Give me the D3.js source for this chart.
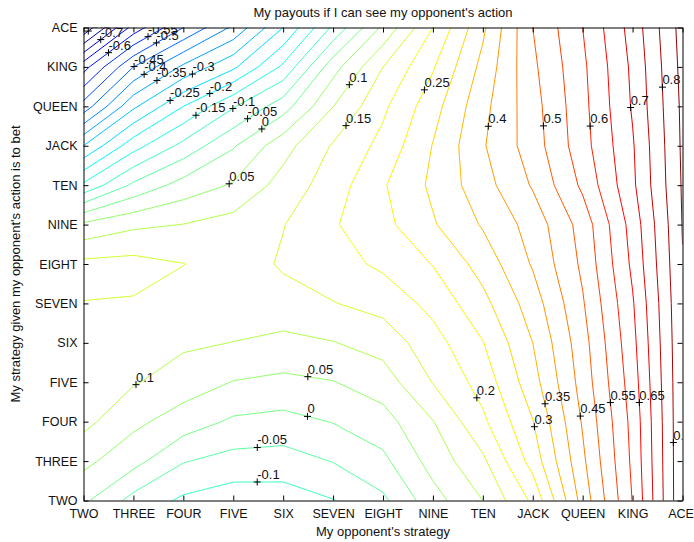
<!DOCTYPE html>
<html>
<head>
<meta charset="utf-8">
<script src="https://cdn.jsdelivr.net/npm/d3@7"></script>
<style>
  body { margin: 0; background: #ffffff; }
  text { font-family: "Liberation Sans", Arial, Helvetica, sans-serif; fill: #111; }
</style>
</head>
<body>
<svg id="chart" width="694" height="542"></svg>
<script>
// Card ranks used on both axes
const cards = ["TWO", "THREE", "FOUR", "FIVE", "SIX", "SEVEN", "EIGHT",
               "NINE", "TEN", "JACK", "QUEEN", "KING", "ACE"];

// Payoff grid: one row per own calling threshold (TWO..ACE),
// one value per opponent betting threshold (TWO..ACE)
const payoffRows = [
  [ 0.010, -0.067, -0.109, -0.128, -0.125, -0.102, -0.060, 0.030, 0.100, 0.210, 0.420, 0.602, 0.843],
  [ 0.063,  0.017, -0.047, -0.068, -0.072, -0.048, -0.012, 0.070, 0.140, 0.270, 0.440, 0.610, 0.842],
  [ 0.114,  0.062,  0.026, -0.008, -0.016,  0.002,  0.030, 0.098, 0.190, 0.298, 0.455, 0.615, 0.842],
  [ 0.133,  0.104,  0.076,  0.048,  0.038,  0.048,  0.075, 0.152, 0.220, 0.330, 0.470, 0.625, 0.842],
  [ 0.145,  0.125,  0.108,  0.099,  0.088,  0.098,  0.120, 0.180, 0.248, 0.350, 0.480, 0.635, 0.843],
  [ 0.149,  0.146,  0.130,  0.130,  0.128,  0.148,  0.168, 0.215, 0.285, 0.375, 0.495, 0.645, 0.845],
  [ 0.163,  0.167,  0.151,  0.120,  0.157,  0.180,  0.210, 0.252, 0.320, 0.405, 0.510, 0.660, 0.848],
  [ 0.060,  0.090,  0.101,  0.120,  0.148,  0.195,  0.235, 0.295, 0.355, 0.420, 0.520, 0.670, 0.852],
  [-0.140, -0.040,  0.020,  0.055,  0.120,  0.175,  0.245, 0.310, 0.380, 0.455, 0.560, 0.690, 0.855],
  [-0.300, -0.170, -0.085, -0.005,  0.081,  0.155,  0.215, 0.302, 0.395, 0.475, 0.580, 0.695, 0.858],
  [-0.480, -0.310, -0.200, -0.105, -0.023,  0.099,  0.190, 0.280, 0.385, 0.480, 0.585, 0.705, 0.860],
  [-0.620, -0.450, -0.340, -0.260, -0.140,  0.030,  0.150, 0.245, 0.365, 0.490, 0.590, 0.710, 0.865],
  [-0.840, -0.630, -0.500, -0.390, -0.250, -0.090,  0.060, 0.200, 0.340, 0.500, 0.600, 0.720, 0.870]
];

// Contour levels
const levels = [-0.8, -0.75, -0.7, -0.65, -0.6, -0.55, -0.5, -0.45, -0.4, -0.35, -0.3,
                -0.25, -0.2, -0.15, -0.1, -0.05, 0, 0.05, 0.1, 0.15, 0.2, 0.25, 0.3,
                0.35, 0.4, 0.45, 0.5, 0.55, 0.6, 0.65, 0.7, 0.75, 0.8, 0.85];

// Inline contour labels: [level, approx. opponent index, approx. own index]
const contourLabels = [
  [-0.8, 0.06, 11.97], [-0.7, 0.27, 11.82], [-0.6, 0.46, 11.43], [-0.55, 1.30, 11.75],
  [-0.5, 1.47, 11.59], [-0.45, 1.03, 10.97], [-0.4, 1.23, 10.78], [-0.35, 1.47, 10.66],
  [-0.3, 2.17, 10.85], [-0.25, 1.73, 10.16], [-0.2, 2.50, 10.40], [-0.15, 2.27, 9.74],
  [-0.1, 3.00, 9.93], [-0.05, 3.29, 9.68], [0, 3.57, 9.43], [0.05, 2.92, 8.03],
  [0.1, 5.40, 10.48], [0.15, 5.27, 9.50], [0.25, 6.78, 10.45], [0.4, 8.07, 9.50],
  [0.5, 9.16, 9.50], [0.6, 10.16, 9.50], [0.7, 10.96, 9.97], [0.8, 11.65, 10.49],
  [0.1, 1.06, 2.92], [0.05, 4.49, 3.11], [0, 4.49, 2.15], [-0.05, 3.48, 1.37],
  [-0.1, 3.48, 0.46], [0.2, 7.83, 2.57], [0.35, 9.20, 2.44], [0.3, 8.95, 1.85],
  [0.45, 10.0, 2.15], [0.55, 10.6, 2.49], [0.65, 11.2, 2.49], [0.8, 11.77, 1.47]
];

const svg = d3.select("#chart");

const x = d3.scaleLinear().domain([0, 12]).range([83.5, 682.5]);
const y = d3.scaleLinear().domain([0, 12]).range([500.5, 27.5]);

const nx = cards.length, ny = cards.length;
const values = payoffRows.flat();
const zMin = d3.min(values), zMax = d3.max(values);

// MATLAB-style jet colormap
function jet(t) {
  const c = v => Math.max(0, Math.min(1, v));
  const r = c(Math.min(4 * t - 1.5, -4 * t + 4.5));
  const g = c(Math.min(4 * t - 0.5, -4 * t + 3.5));
  const b = c(Math.min(4 * t + 0.5, -4 * t + 2.5));
  return d3.rgb(r * 255, g * 255, b * 255).formatHex();
}
const color = v => jet((v - zMin) / (zMax - zMin));

// clip region = plot box
svg.append("defs").append("clipPath").attr("id", "plotClip")
  .append("rect")
  .attr("x", x(0)).attr("y", y(12))
  .attr("width", x(12) - x(0)).attr("height", y(0) - y(12));

const contours = d3.contours().size([nx, ny]).thresholds(levels)(values);

// grid sample (i, j) sits at contour coordinate (i + 0.5, j + 0.5)
const toPx = (gx, gy) => [x(gx - 0.5), y(gy - 0.5)];
const proj = d3.geoTransform({
  point(gx, gy) { const p = toPx(gx, gy); this.stream.point(p[0], p[1]); }
});
const path = d3.geoPath(proj);

const plot = svg.append("g").attr("clip-path", "url(#plotClip)");

plot.selectAll("path.contour")
  .data(contours)
  .join("path")
  .attr("class", "contour")
  .attr("d", path)
  .attr("fill", "none")
  .attr("stroke", d => color(d.value))
  .attr("stroke-width", 1);

// place each label on the nearest point of its contour line
function nearestOnLevel(level, px, py) {
  const c = contours.find(d => Math.abs(d.value - level) < 1e-9);
  if (!c) return [px, py];
  const x0 = x(0), x1 = x(12), y0 = y(12), y1 = y(0);
  const inside = p => p[0] >= x0 - 0.5 && p[0] <= x1 + 0.5 && p[1] >= y0 - 0.5 && p[1] <= y1 + 0.5;
  let best = null, bestD = Infinity;
  c.coordinates.forEach(poly => poly.forEach(ring => {
    for (let k = 1; k < ring.length; k++) {
      const a = toPx(ring[k - 1][0], ring[k - 1][1]);
      const b = toPx(ring[k][0], ring[k][1]);
      if (!inside(a) || !inside(b)) continue;
      const dx = b[0] - a[0], dy = b[1] - a[1];
      const L = dx * dx + dy * dy;
      let t = L > 0 ? ((px - a[0]) * dx + (py - a[1]) * dy) / L : 0;
      t = Math.max(0, Math.min(1, t));
      const q = [a[0] + t * dx, a[1] + t * dy];
      const dd = (q[0] - px) ** 2 + (q[1] - py) ** 2;
      if (dd < bestD) { bestD = dd; best = q; }
    }
  }));
  return best || [px, py];
}

const labelG = plot.append("g");
contourLabels.forEach(([lv, ci, ri]) => {
  const p = nearestOnLevel(lv, x(ci), y(ri));
  const g = labelG.append("g").attr("transform", `translate(${p[0]},${p[1]})`);
  g.append("path")
    .attr("d", "M-3.5,0H3.5M0,-3.5V3.5")
    .attr("stroke", "#000").attr("stroke-width", 1).attr("fill", "none");
  g.append("text")
    .attr("x", 0).attr("y", -3)
    .attr("font-size", 13)
    .text(String(lv));
});

// axes: ticks point inward on all four sides
const idx = d3.range(nx);
const axisG = svg.append("g");

const bottomAxis = axisG.append("g")
  .attr("transform", `translate(0,${y(0)})`)
  .call(d3.axisBottom(x).tickValues(idx).tickFormat(i => cards[i])
        .tickSizeInner(-5).tickSizeOuter(0).tickPadding(9));
axisG.append("g")
  .attr("transform", `translate(0,${y(12)})`)
  .call(d3.axisTop(x).tickValues(idx).tickFormat(() => "")
        .tickSizeInner(-5).tickSizeOuter(0));
axisG.append("g")
  .attr("transform", `translate(${x(0)},0)`)
  .call(d3.axisLeft(y).tickValues(idx).tickFormat(i => cards[i])
        .tickSizeInner(-5).tickSizeOuter(0).tickPadding(6));
axisG.append("g")
  .attr("transform", `translate(${x(12)},0)`)
  .call(d3.axisRight(y).tickValues(idx).tickFormat(() => "")
        .tickSizeInner(-5).tickSizeOuter(0));

axisG.selectAll(".domain, .tick line").attr("stroke", "#000").attr("stroke-width", 1);
axisG.selectAll(".tick text")
  .attr("font-size", 12.5)
  .attr("font-family", "Liberation Sans, Arial, sans-serif")
  .attr("fill", "#111");
// keep the last category label inside the canvas
bottomAxis.selectAll(".tick text").filter(i => i === 12).attr("dx", -2);

// titles
svg.append("text")
  .attr("x", (x(0) + x(12)) / 2).attr("y", 17)
  .attr("text-anchor", "middle").attr("font-size", 13)
  .text("My payouts if I can see my opponent's action");

svg.append("text")
  .attr("x", (x(0) + x(12)) / 2).attr("y", 536)
  .attr("text-anchor", "middle").attr("font-size", 13)
  .text("My opponent's strategy");

svg.append("text")
  .attr("transform", `translate(20,${(y(0) + y(12)) / 2}) rotate(-90)`)
  .attr("text-anchor", "middle").attr("font-size", 13)
  .text("My strategy given my opponent's action is to bet");
</script>
</body>
</html>
